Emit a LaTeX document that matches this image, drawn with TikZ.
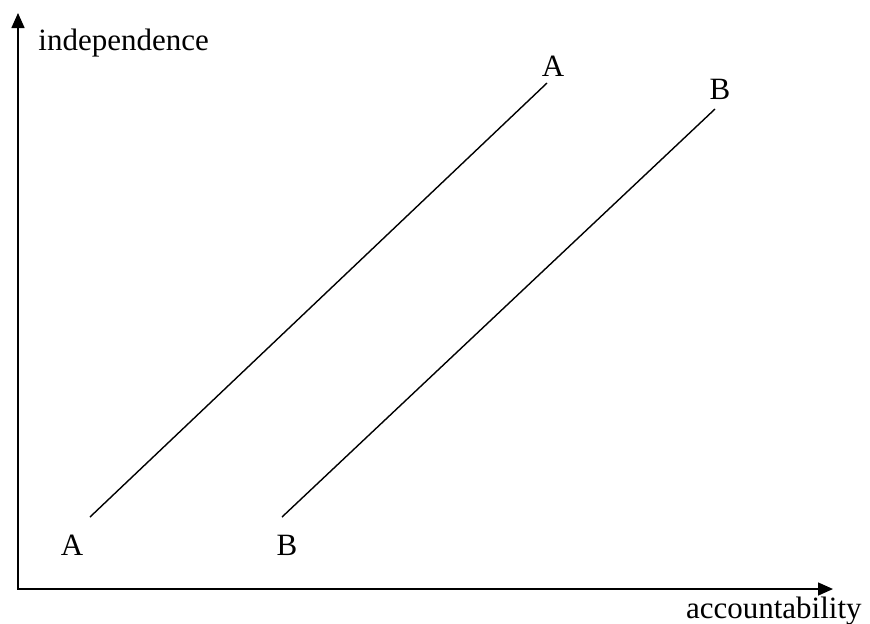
\documentclass[tikz,border=0pt]{standalone}
\usepackage{fontspec}
\setmainfont{Liberation Serif}
\usetikzlibrary{arrows.meta,positioning}

\begin{document}
\begin{tikzpicture}[
x=0.5pt, y=-0.5pt,
axis/.style={line width=0.75pt, {Triangle[length=7.5pt, width=6.5pt]}-{Triangle[length=7.5pt, width=6.5pt]}},
diag/.style={line width=0.7pt},
lbl/.style={inner sep=0pt, font=\fontsize{15.5}{18}\selectfont}
]
\useasboundingbox (0,0) rectangle (870,623);
% axes
\coordinate (o) at (18,589);
\coordinate (ytip) at (18,13);
\coordinate (xtip) at (833,589);
\draw[axis] (ytip) -- (o) -- (xtip);
\node[lbl, anchor=base west] (indep) at (38,50) {independence};
\node[lbl, anchor=base east] (acc) at (862,618) {accountability};
% lines
\coordinate (a0) at (90,517);
\coordinate (a1) at (547,83);
\coordinate (b0) at (282,517);
\coordinate (b1) at (715,109);
\draw[diag] (a0) -- (a1);
\draw[diag] (b0) -- (b1);
\node[lbl] (la0) at (72,545) {A};
\node[lbl] (la1) at (553,66) {A};
\node[lbl] (lb0) at (287,545) {B};
\node[lbl] (lb1) at (720,89) {B};
\end{tikzpicture}
\end{document}
